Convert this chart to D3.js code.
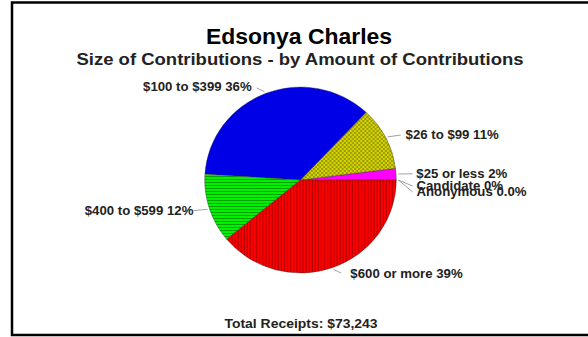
<!DOCTYPE html>
<html>
<head>
<meta charset="utf-8">
<script src="https://cdn.jsdelivr.net/npm/d3@7"></script>
<style>
  body { margin: 0; background: #fff; }
  text { font-family: Arial, "Liberation Sans", sans-serif; font-weight: bold; }
</style>
</head>
<body>
<div id="pie_chart"></div>
<script>
// Data (share of receipts, percent)
var categories = ["$25 or less", "$26 to $99", "$100 to $399", "$400 to $599", "$600 or more", "Candidate", "Anonymous"];
var shares = [2, 11, 36, 12, 39, 0, 0];
var shareLabels = ["2%", "11%", "36%", "12%", "39%", "0%", "0.0%"];
var sliceFills = ["url(#solidMagenta)", "url(#checkOlive)", "url(#solidBlue)", "url(#hLinesGreen)", "url(#vLinesRed)", "none", "none"];
var totalReceipts = "$73,243";

var w = 588, h = 337;
var cx = 300.5, cy = 180, r = 93;

var svg = d3.select("#pie_chart")
  .append("svg")
  .attr("width", w)
  .attr("height", h);

// patterns
var defs = svg.append("defs");

defs.append("pattern").attr("id", "solidMagenta")
  .attr("patternUnits", "userSpaceOnUse").attr("width", 4).attr("height", 4)
  .append("rect").attr("width", 4).attr("height", 4).attr("fill", "#ff00ff");

defs.append("pattern").attr("id", "solidBlue")
  .attr("patternUnits", "userSpaceOnUse").attr("width", 4).attr("height", 4)
  .append("rect").attr("width", 4).attr("height", 4).attr("fill", "#0000e6");

var chk = defs.append("pattern").attr("id", "checkOlive")
  .attr("patternUnits", "userSpaceOnUse").attr("width", 4).attr("height", 4);
chk.append("rect").attr("width", 4).attr("height", 4).attr("fill", "#d6d600");
chk.append("rect").attr("width", 2).attr("height", 2).attr("fill", "#9a9a00");
chk.append("rect").attr("x", 2).attr("y", 2).attr("width", 2).attr("height", 2).attr("fill", "#9a9a00");

var hl = defs.append("pattern").attr("id", "hLinesGreen")
  .attr("patternUnits", "userSpaceOnUse").attr("width", 4).attr("height", 3);
hl.append("rect").attr("width", 4).attr("height", 3).attr("fill", "#00f000");
hl.append("rect").attr("y", 2).attr("width", 4).attr("height", 1).attr("fill", "#00a000");

var vl = defs.append("pattern").attr("id", "vLinesRed")
  .attr("patternUnits", "userSpaceOnUse").attr("width", 3).attr("height", 4);
vl.append("rect").attr("width", 3).attr("height", 4).attr("fill", "#ff0000");
vl.append("rect").attr("x", 2).attr("width", 1).attr("height", 4).attr("fill", "#b00000");

// frame (top, left, bottom)
svg.append("path")
  .attr("d", "M" + w + ",2.5 H12 V335 H" + w)
  .attr("fill", "none")
  .attr("stroke", "#000")
  .attr("stroke-width", 2.5);

// Titles
svg.append("text")
  .attr("x", 299).attr("y", 44)
  .attr("text-anchor", "middle")
  .style("font-size", "22px")
  .attr("textLength", 186)
  .attr("lengthAdjust", "spacingAndGlyphs")
  .text("Edsonya Charles");

svg.append("text")
  .attr("x", 300).attr("y", 65)
  .attr("text-anchor", "middle")
  .style("font-size", "16px")
  .attr("fill", "#222")
  .attr("textLength", 447)
  .attr("lengthAdjust", "spacingAndGlyphs")
  .text("Size of Contributions - by Amount of Contributions");

// pie, counter-clockwise from 3 o'clock
var data = categories.map(function(c, i) {
  return { cat: c, value: shares[i], label: c + " " + shareLabels[i], fill: sliceFills[i] };
});

var pie = d3.pie()
  .sort(null)
  .value(function(d) { return d.value; })
  .startAngle(Math.PI / 2)
  .endAngle(Math.PI / 2 - 2 * Math.PI);

var arcs = pie(data);

var arc = d3.arc().innerRadius(0).outerRadius(r);

var g = svg.append("g")
  .attr("transform", "translate(" + cx + "," + cy + ") scale(1.03,1)");

g.selectAll("path.slice")
  .data(arcs.filter(function(d) { return d.data.value > 0; }))
  .enter()
  .append("path")
  .attr("class", "slice")
  .attr("d", arc)
  .attr("fill", function(d) { return d.data.fill; })
  .attr("stroke", "#333")
  .attr("stroke-width", 0.4);

// labels and leader lines
var gap = 12;
var zeroCount = 0;
arcs.forEach(function(d) {
  var a = (d.startAngle + d.endAngle) / 2;   // d3 angle, 0 = 12 o'clock, clockwise
  var sx = Math.sin(a), sy = -Math.cos(a);
  var right = sx >= 0;
  var dy = 0;
  if (d.data.value === 0) { zeroCount++; dy = zeroCount * 6; }

  svg.append("line")
    .attr("x1", cx + (r + 2) * sx * 1.03).attr("y1", cy + (r + 2) * sy)
    .attr("x2", cx + (r + 12) * sx * 1.03 + (right ? 4 : -4)).attr("y2", cy + (r + 6) * sy + dy)
    .attr("stroke", "#888")
    .attr("stroke-width", 0.8);

  var t = svg.append("text")
    .attr("x", cx + 100 * sx + (right ? gap + 4 : -gap))
    .attr("y", cy + 100 * sy + 4 + dy)
    .attr("text-anchor", right ? "start" : "end")
    .style("font-size", "12px")
    .attr("fill", "#222")
    .text(d.data.label);
  // the source font is wider than Arial
  t.attr("textLength", t.node().getComputedTextLength() * 1.1)
    .attr("lengthAdjust", "spacingAndGlyphs");
});

// footer
var foot = svg.append("text")
  .attr("x", 301).attr("y", 328)
  .attr("text-anchor", "middle")
  .style("font-size", "12px")
  .attr("fill", "#222")
  .text("Total Receipts: " + totalReceipts);
foot.attr("textLength", 153).attr("lengthAdjust", "spacingAndGlyphs");
</script>
</body>
</html>
